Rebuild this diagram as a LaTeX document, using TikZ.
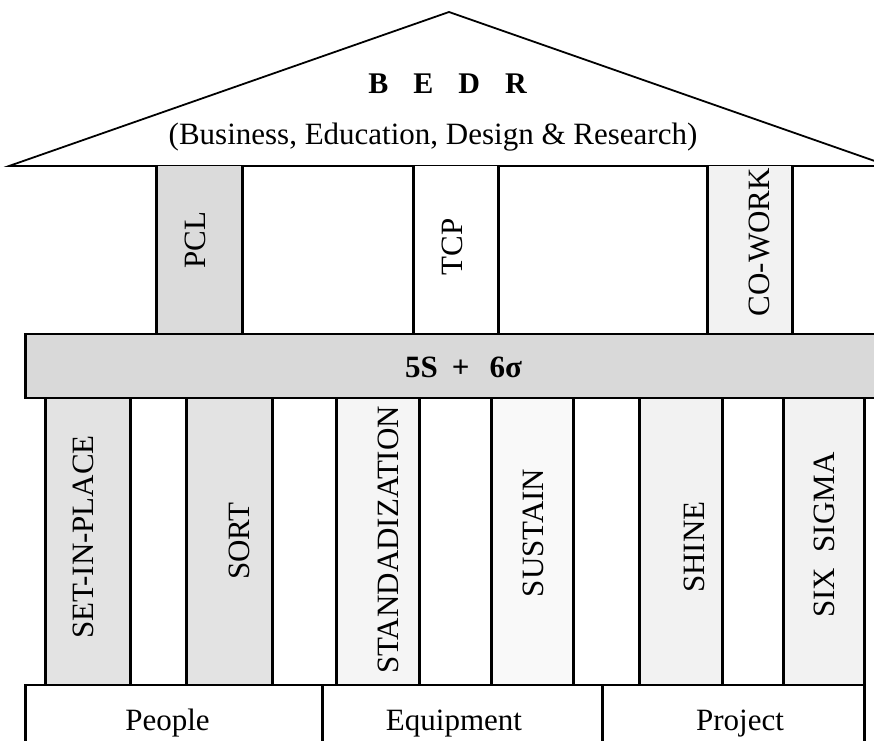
\documentclass[tikz,border=0pt]{standalone}
\usepackage{fontspec}
\setmainfont{Liberation Serif}
\begin{document}
\begin{tikzpicture}[x=1pt,y=-1pt,
  thickline/.style={line width=3pt},
  thinline/.style={line width=1.6pt},
  vlabel/.style={font=\fontsize{31}{31}\selectfont, inner sep=0pt, rotate=90},
  hlabel/.style={font=\fontsize{31}{31}\selectfont, inner sep=0pt, anchor=base},
  boldlabel/.style={font=\fontsize{31}{31}\selectfont\bfseries, inner sep=0pt, anchor=base}
]
\useasboundingbox (0,0) rectangle (874,740);
\clip (0,0) rectangle (874,740);
\fill[white] (0,0) rectangle (874,740);

% roof
\draw[line width=1.8pt, line join=miter] (9,166) -- (449,12) -- (889,166) -- cycle;
\node[font=\fontsize{30}{30}\selectfont\bfseries, inner sep=0pt, anchor=base] (bedr) at (447.5,93)
  {B\hspace{25pt}E\hspace{25pt}D\hspace{25pt}R};
\node[hlabel] (sub) at (433,144) {(Business, Education, Design \& Research)};

% upper pillars
\foreach \a/\b/\c in {156/242/gray!28, 413/498/white, 707/792/gray!10} {
  \fill[\c] (\a,166) rectangle (\b,334);
  \draw[thickline] (\a,166) -- (\a,334) (\b,166) -- (\b,334);
}
\node[vlabel] (pcl) at (195,240) {PCL};
\node[vlabel] (tcp) at (452,247) {TCP};
\node[vlabel] (cowork) at (759,242) {CO-WORK};

% lower pillars
\foreach \a/\b/\c in {45/130/gray!22, 186/272/gray!22, 336/419/gray!8, 491/573/gray!5, 639/722/gray!10, 783/864/gray!10} {
  \fill[\c] (\a,398) rectangle (\b,685);
  \draw[thickline] (\a,398) -- (\a,685) (\b,398) -- (\b,685);
}
\node[vlabel] (setin) at (83,537) {SET-IN-PLACE};
\node[vlabel] (sort) at (239,541) {SORT};
\node[vlabel, anchor=west] (stand) at (388,674) {STANDADIZATION};
\node[vlabel] (sustain) at (533,533) {SUSTAIN};
\node[vlabel] (shine) at (694,547) {SHINE};
\node[vlabel] (sixsigma) at (824,535) {SIX\ \ SIGMA};

% beam
\fill[gray!30] (25,334) rectangle (890,398);
\draw[thinline] (890,334) -- (25,334);
\draw[thinline] (25,398) -- (890,398);
\draw[thickline] (25,333) -- (25,399);
\node[boldlabel] (beam) at (463.5,377) {5S\hspace{14pt}+\hspace{20pt}6σ};

% base
\draw[thinline] (25,685) -- (864,685);
\draw[thickline] (25,684) -- (25,745) (322,685) -- (322,745) (602,685) -- (602,745) (864,684) -- (864,745);
\node[hlabel] (people) at (167.5,730) {People};
\node[hlabel] (equip) at (454,730) {Equipment};
\node[hlabel] (project) at (740,730) {Project};
\end{tikzpicture}
\end{document}
